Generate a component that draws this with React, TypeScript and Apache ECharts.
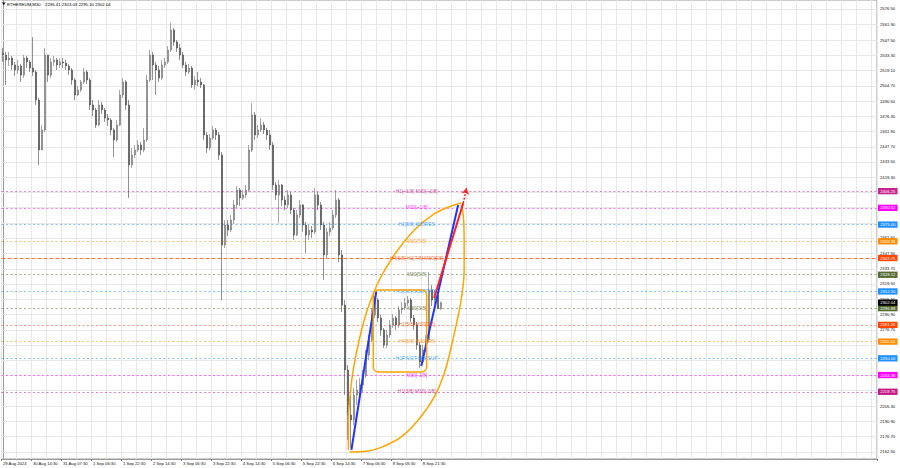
import React, { useEffect, useRef } from 'react';
import * as echarts from 'echarts';

// ---------- data ----------
const symbolName = 'ETHEREUM,M30';
const titleOHLC = '2296.41 2303.03 2295.10 2302.04';

const xLabels = [
  '29 Aug 2024', '30 Aug 14:30', '31 Aug 07:30', '1 Sep 06:30', '1 Sep 22:30',
  '2 Sep 14:30', '3 Sep 06:30', '3 Sep 22:30', '4 Sep 14:30', '5 Sep 06:30',
  '5 Sep 22:30', '6 Sep 14:30', '7 Sep 06:30', '8 Sep 05:30', '8 Sep 21:30',
];

const yGridTicks = [
  2576.5, 2561.9, 2547.5, 2533.3, 2519.1, 2504.7, 2490.5, 2476.3, 2461.9, 2447.7,
  2433.5, 2419.3, 2405.1, 2390.9, 2376.6, 2362.5, 2347.9, 2333.7, 2319.5, 2305.1,
  2290.9, 2276.7, 2262.5, 2248.3, 2234.1, 2219.9, 2205.3, 2190.9, 2176.7, 2162.5,
];
const yLabelTicks = [
  2576.5, 2561.9, 2547.5, 2533.3, 2519.1, 2504.7, 2490.5, 2476.3, 2461.9, 2447.7,
  2433.5, 2419.3, 2362.5, 2347.9, 2333.7, 2319.5, 2305.1, 2290.9, 2276.7,
  2205.3, 2190.9, 2176.7, 2162.5,
];

const firstOpen = 2535.0;
const closes = [
  2533.5, 2528.8, 2530.7, 2524.2, 2519.5, 2523.2, 2514.8, 2530.7, 2527.0, 2521.3,
  2517.6, 2491.4, 2444.7, 2463.4, 2533.5, 2514.8, 2527.0, 2528.8, 2524.2, 2527.0,
  2526.0, 2523.2, 2519.5, 2510.1, 2496.1, 2500.8, 2508.3, 2517.6, 2510.1, 2486.8,
  2482.1, 2468.1, 2486.8, 2482.1, 2474.6, 2472.7, 2463.4, 2454.1, 2468.1, 2496.1,
  2508.3, 2486.8, 2430.7, 2440.0, 2444.7, 2449.4, 2444.7, 2454.1, 2510.1, 2533.5,
  2524.2, 2519.5, 2512.0, 2524.2, 2527.0, 2538.2, 2556.9, 2545.6, 2540.0, 2533.5,
  2524.2, 2517.6, 2521.3, 2505.5, 2510.1, 2508.3, 2505.5, 2458.7, 2446.6, 2455.9,
  2463.4, 2458.7, 2440.0, 2355.9, 2374.6, 2369.9, 2379.3, 2393.3, 2407.3, 2399.8,
  2402.7, 2407.3, 2444.7, 2477.4, 2458.7, 2463.4, 2468.1, 2463.4, 2458.7, 2449.4,
  2412.0, 2402.7, 2412.0, 2398.0, 2393.3, 2402.7, 2388.6, 2365.3, 2384.0, 2393.3,
  2374.6, 2365.3, 2369.9, 2368.1, 2402.7, 2393.3, 2374.6, 2346.6, 2368.1, 2371.8,
  2384.0, 2398.0, 2346.6, 2299.8, 2239.1, 2197.0, 2192.4, 2215.7, 2220.4, 2225.1,
  2234.4, 2253.1, 2267.1, 2290.5, 2304.5, 2287.7, 2276.5, 2262.5, 2271.8, 2281.2,
  2287.7, 2281.2, 2295.2, 2297.0, 2301.7, 2304.5, 2287.7, 2281.2, 2262.5, 2246.6,
  2257.8, 2267.1, 2313.9, 2304.5, 2309.2, 2296.41, 2302.04,
];
const highs = [
  2540.0, 2536.3, 2536.3, 2532.6, 2527.0, 2528.8, 2525.1, 2533.5, 2532.6, 2528.8,
  2550.3, 2519.5, 2493.3, 2468.1, 2540.0, 2533.5, 2530.7, 2532.6, 2530.7, 2530.7,
  2530.7, 2528.8, 2525.1, 2521.3, 2512.0, 2504.5, 2510.1, 2521.3, 2519.5, 2512.0,
  2491.4, 2484.0, 2491.4, 2489.6, 2484.0, 2478.4, 2474.6, 2465.3, 2472.7, 2500.8,
  2512.0, 2510.1, 2491.4, 2446.6, 2449.4, 2454.1, 2452.2, 2465.3, 2514.8, 2538.2,
  2536.3, 2527.0, 2523.2, 2528.8, 2530.7, 2541.9, 2563.4, 2558.7, 2547.5, 2543.8,
  2536.3, 2527.0, 2525.1, 2523.2, 2513.9, 2517.6, 2512.0, 2506.4, 2461.5, 2459.7,
  2467.1, 2465.3, 2461.5, 2442.8, 2379.3, 2379.3, 2384.0, 2398.0, 2411.1, 2409.2,
  2407.3, 2412.0, 2449.4, 2488.6, 2480.2, 2468.1, 2474.6, 2470.9, 2465.3, 2463.4,
  2452.2, 2414.8, 2416.7, 2412.9, 2401.7, 2407.3, 2405.5, 2390.5, 2388.6, 2398.0,
  2394.2, 2377.4, 2374.6, 2373.7, 2409.2, 2405.5, 2396.1, 2377.4, 2371.8, 2377.4,
  2388.6, 2407.3, 2399.8, 2351.2, 2304.5, 2243.8, 2215.7, 2222.3, 2229.8, 2231.6,
  2239.1, 2257.8, 2271.8, 2297.0, 2308.3, 2306.4, 2290.5, 2278.4, 2276.5, 2285.8,
  2291.4, 2289.6, 2298.9, 2302.7, 2306.4, 2308.3, 2306.4, 2290.5, 2284.0, 2265.3,
  2262.5, 2271.8, 2330.7, 2318.5, 2313.9, 2312.0, 2303.03,
];
const lows = [
  2527.0, 2505.5, 2523.2, 2519.5, 2513.9, 2515.7, 2508.3, 2512.0, 2521.3, 2517.6,
  2513.9, 2486.8, 2430.7, 2444.7, 2461.5, 2508.3, 2512.0, 2523.2, 2519.5, 2521.3,
  2521.3, 2519.5, 2514.8, 2505.5, 2491.4, 2495.2, 2498.9, 2506.4, 2506.4, 2482.1,
  2476.5, 2465.3, 2467.1, 2478.4, 2470.9, 2467.1, 2458.7, 2438.2, 2452.2, 2467.1,
  2493.3, 2482.1, 2399.8, 2427.9, 2437.2, 2442.8, 2440.0, 2442.8, 2452.2, 2508.3,
  2510.1, 2496.1, 2508.3, 2510.1, 2521.3, 2525.1, 2536.3, 2541.9, 2536.3, 2528.8,
  2521.3, 2513.9, 2515.7, 2502.7, 2500.8, 2504.5, 2502.7, 2454.1, 2441.9, 2444.7,
  2454.1, 2454.1, 2435.4, 2304.5, 2353.1, 2364.3, 2368.1, 2375.5, 2390.5, 2392.4,
  2398.0, 2399.8, 2405.5, 2442.8, 2454.1, 2455.9, 2461.5, 2459.7, 2454.1, 2444.7,
  2407.3, 2398.0, 2376.5, 2392.4, 2388.6, 2390.5, 2384.9, 2360.6, 2364.3, 2381.2,
  2368.1, 2348.4, 2360.6, 2362.5, 2366.2, 2388.6, 2369.9, 2323.2, 2343.8, 2364.3,
  2369.9, 2381.2, 2340.0, 2293.3, 2215.7, 2173.7, 2166.2, 2187.7, 2206.4, 2211.1,
  2218.5, 2231.6, 2248.4, 2265.3, 2287.7, 2284.0, 2270.9, 2259.7, 2259.7, 2269.0,
  2278.4, 2276.5, 2278.4, 2291.4, 2295.2, 2298.9, 2284.0, 2276.5, 2257.8, 2241.0,
  2243.8, 2255.9, 2265.3, 2298.9, 2300.8, 2297.0, 2295.10,
];

const levelValues = [2406.25, 2390.62, 2375.0, 2359.38, 2343.75, 2328.12, 2312.5, 2296.88, 2281.25, 2265.62, 2250.0, 2234.38, 2218.75];
const levelNames = [
  'H1[+1/8] M30[+2/8]', 'M30[+1/8]', 'H1[8/8] M30RES', 'M30[7/8]', 'H4[6/8] H1[7/8] M30[6/8]',
  'M30[5/8]', 'H1[6/8] M30PIVOT', 'M30[3/8]', 'H1[5/8] M30[2/8]', 'H4[5/8] M30[1/8]',
  'H1PIVOT M30SUP', 'M30[-1/8]', 'H1[3/8] M30[-2/8]',
];
const levelColors = [
  '#c8238f', '#ff00ff', '#1e90ff', '#ff8c00', '#ff4500', '#556b2f', '#1e90ff',
  '#556b2f', '#ff4500', '#ff8c00', '#1e90ff', '#ff00ff', '#c71585',
];
const currentPrice = 2302.04;

// drawings, in [bar index, price]
const ellipseLeft = [
  [115.2, 2164.3], [115.2, 2192.4], [115.8, 2215.7], [116.8, 2239.1], [118.8, 2267.1],
  [121.5, 2295.2], [125.5, 2323.2], [130.5, 2346.6], [137.2, 2369.9], [143.8, 2384.9],
  [149.5, 2392.4], [152.8, 2395.2],
];
const ellipseRight = [
  [115.5, 2162.5], [121.8, 2163.4], [127.2, 2168.1], [132.8, 2176.5], [138.5, 2192.4],
  [143.8, 2213.8], [147.2, 2236.3], [149.5, 2260.6], [151.5, 2285.8], [152.8, 2304.5],
  [153.8, 2332.6], [153.8, 2360.6], [153.5, 2384.0], [152.8, 2393.3],
];
const blueLineA = [[116.2, 2164.3], [124.5, 2312.3]];
const blueLineB = [[139.5, 2242.8], [151.8, 2393.3]];
const redLine = [[143.8, 2306.4], [153.5, 2395.2]];
const redArrow = [[153.5, 2395.2], [154.6, 2409.0]];
const rangeBox = { x0: 123.5, x1: 141.3, top: 2313.9, bottom: 2237.2 };

const TOTAL_BARS = 292;
const LABEL_STEP = 10;
const LEVEL_TEXT_BAR = 138;
const Y_MIN = 2155.9;
const Y_MAX = 2584.9;

const FONT = '"Liberation Sans", Arial, sans-serif';

function withAlpha(hex: string, a: number) {
  const r = parseInt(hex.slice(1, 3), 16);
  const g = parseInt(hex.slice(3, 5), 16);
  const b = parseInt(hex.slice(5, 7), 16);
  return `rgba(${r},${g},${b},${a})`;
}

export default function App() {
  const ref = useRef<HTMLDivElement>(null);

  useEffect(() => {
    const chart = echarts.init(ref.current!, null, { renderer: 'svg' });

    const categories = Array.from({ length: TOTAL_BARS }, (_, i) =>
      i % LABEL_STEP === 0 && i / LABEL_STEP < xLabels.length ? xLabels[i / LABEL_STEP] : ''
    );
    const labelInterval = (i: number) => i % LABEL_STEP === 0 && i / LABEL_STEP < xLabels.length;

    const candles = closes.map((c, i) => {
      const o = i === 0 ? firstOpen : closes[i - 1];
      const h = Math.max(highs[i], o, c);
      const l = Math.min(lows[i], o, c);
      return [o, c, l, h];
    });

    const priceLabel = (text: string, bg: string) => ({
      show: true,
      position: 'end',
      distance: 1,
      formatter: text,
      color: '#ffffff',
      backgroundColor: bg,
      padding: [1.3, 2.2, 1, 2.2],
      fontSize: 4.2,
      fontFamily: FONT,
    });

    const levelLines: any[] = levelValues.map((v, i) => ({
      yAxis: v,
      lineStyle: {
        color: withAlpha(levelColors[i], i === 4 ? 0.75 : 0.55),
        type: i === 4 ? [4, 2] : [2, 2.5],
        width: 1,
      },
      label: priceLabel(v.toFixed(2), levelColors[i]),
    }));
    levelLines.push({
      yAxis: currentPrice,
      lineStyle: { color: 'rgba(0,0,0,0)' },
      label: priceLabel(currentPrice.toFixed(2), '#000000'),
    });

    const option: any = {
      animation: false,
      backgroundColor: '#ffffff',
      grid: { left: 0, right: 23, top: 0, bottom: 9, show: true, borderColor: '#9a9a9a', borderWidth: 1 },
      xAxis: [
        {
          type: 'category',
          data: categories,
          boundaryGap: true,
          axisLine: { show: true, lineStyle: { color: '#9a9a9a' } },
          axisTick: { show: true, interval: labelInterval, length: 2, lineStyle: { color: '#777' } },
          axisLabel: {
            interval: labelInterval,
            align: 'left',
            fontSize: 4.2,
            color: '#111',
            margin: 2,
            fontFamily: FONT,
          },
          splitLine: { show: true, interval: (i: number) => i % 5 === 0, lineStyle: { color: '#e8e8e8', width: 1 } },
        },
        { type: 'value', min: -0.5, max: TOTAL_BARS - 0.5, show: false, gridIndex: 0 },
      ],
      yAxis: {
        type: 'value',
        position: 'right',
        min: Y_MIN,
        max: Y_MAX,
        axisLine: { show: true, lineStyle: { color: '#9a9a9a' } },
        axisTick: { show: true, customValues: yLabelTicks, length: 2, lineStyle: { color: '#777' } },
        axisLabel: {
          customValues: yLabelTicks,
          formatter: (v: number) => v.toFixed(2),
          fontSize: 4.2,
          margin: 3,
          color: '#111',
          fontFamily: FONT,
        },
        splitLine: { show: false },
      },
      series: [
        {
          type: 'line',
          data: [],
          silent: true,
          z: 1,
          markLine: {
            silent: true,
            symbol: 'none',
            z: 1,
            animation: false,
            label: { show: false },
            lineStyle: { color: '#e8e8e8', width: 1, type: 'solid' },
            data: yGridTicks.map((v) => ({ yAxis: v })),
          },
        },
        {
          type: 'line',
          data: [],
          silent: true,
          z: 2,
          markLine: {
            silent: true,
            symbol: 'none',
            z: 2,
            animation: false,
            data: levelLines,
          },
        },
        {
          type: 'candlestick',
          xAxisIndex: 0,
          yAxisIndex: 0,
          data: candles,
          barWidth: 1.8,
          z: 3,
          itemStyle: {
            color: '#a8a8a8',
            color0: '#474747',
            borderColor: '#6a6a6a',
            borderColor0: '#474747',
            borderWidth: 0.6,
          },
        },
        {
          type: 'line',
          xAxisIndex: 1,
          data: ellipseLeft,
          smooth: 0.4,
          showSymbol: false,
          silent: true,
          z: 4,
          lineStyle: { color: '#ffa500', width: 1.5 },
        },
        {
          type: 'line',
          xAxisIndex: 1,
          data: ellipseRight,
          smooth: 0.4,
          showSymbol: false,
          silent: true,
          z: 4,
          lineStyle: { color: '#ffa500', width: 1.5 },
        },
        {
          type: 'line',
          xAxisIndex: 1,
          data: blueLineA,
          showSymbol: false,
          silent: true,
          z: 5,
          lineStyle: { color: '#2233ff', width: 2 },
        },
        {
          type: 'line',
          xAxisIndex: 1,
          data: blueLineB,
          showSymbol: false,
          silent: true,
          z: 5,
          lineStyle: { color: '#2233ff', width: 2 },
        },
        {
          type: 'line',
          xAxisIndex: 1,
          data: redLine,
          showSymbol: false,
          silent: true,
          z: 5,
          lineStyle: { color: '#ff2020', width: 2 },
          markLine: {
            silent: true,
            symbol: ['none', 'arrow'],
            symbolSize: 6,
            animation: false,
            label: { show: false },
            lineStyle: { color: '#ff2020', width: 1.5, type: [2, 1.5] },
            data: [[{ coord: redArrow[0] }, { coord: redArrow[1] }]],
          },
        },
        {
          type: 'scatter',
          xAxisIndex: 1,
          symbolSize: 0,
          silent: true,
          z: 6,
          data: levelValues.map((v, i) => ({
            value: [LEVEL_TEXT_BAR, v],
            label: { color: levelColors[i] },
          })),
          label: {
            show: true,
            position: 'inside',
            fontSize: 4.9,
            fontFamily: FONT,
            formatter: (p: any) => levelNames[p.dataIndex],
          },
        },
      ],
    };

    chart.setOption(option);

    const p0 = chart.convertToPixel({ seriesIndex: 3 }, [rangeBox.x0, rangeBox.top]) as number[];
    const p1 = chart.convertToPixel({ seriesIndex: 3 }, [rangeBox.x1, rangeBox.bottom]) as number[];

    chart.setOption({
      graphic: [
        {
          type: 'rect',
          z: 20,
          silent: true,
          shape: { x: p0[0], y: p0[1], width: p1[0] - p0[0], height: p1[1] - p0[1], r: 5 },
          style: { fill: 'none', stroke: '#ffa500', lineWidth: 1.5 },
        },
        {
          type: 'polygon',
          z: 20,
          silent: true,
          shape: { points: [[2, 2.6], [5.6, 2.6], [3.8, 5.2]] },
          style: { fill: '#000' },
        },
        {
          type: 'text',
          z: 20,
          silent: true,
          x: 7,
          y: 4.3,
          style: { text: symbolName, fontSize: 4.3, fill: '#000', verticalAlign: 'middle', fontFamily: FONT },
        },
        {
          type: 'text',
          z: 20,
          silent: true,
          x: 45,
          y: 4.3,
          style: { text: titleOHLC, fontSize: 4.3, fill: '#000', verticalAlign: 'middle', fontFamily: FONT },
        },
      ],
    });

    return () => chart.dispose();
  }, []);

  return (
    <div
      ref={ref}
      style={{ position: 'fixed', left: 0, top: 0, width: 900, height: 468, background: '#fff' }}
    />
  );
}
